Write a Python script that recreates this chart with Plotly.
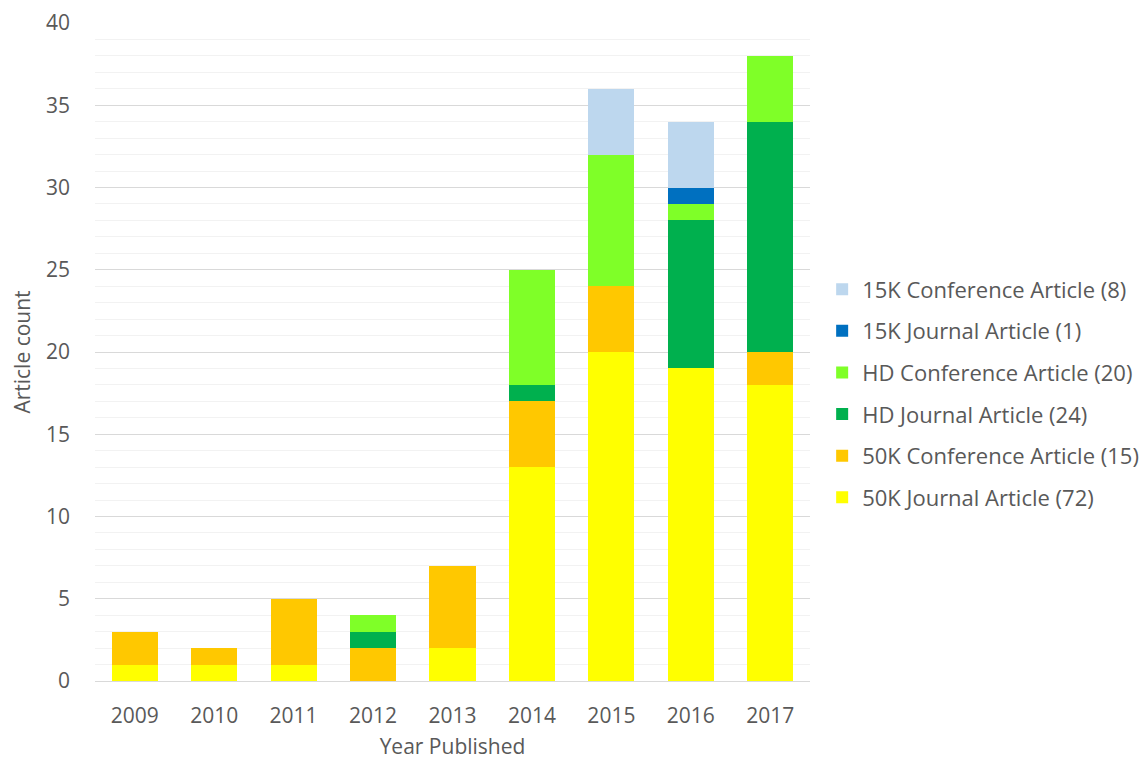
import plotly.graph_objects as go

years = ["2009", "2010", "2011", "2012", "2013", "2014", "2015", "2016", "2017"]

j50k = [1, 1, 1, 0, 2, 13, 20, 19, 18]
c50k = [2, 1, 4, 2, 5, 4, 4, 0, 2]
jhd = [0, 0, 0, 1, 0, 1, 0, 9, 14]
chd = [0, 0, 0, 1, 0, 7, 8, 1, 4]
j15k = [0, 0, 0, 0, 0, 0, 0, 1, 0]
c15k = [0, 0, 0, 0, 0, 0, 4, 4, 0]

series = [
    ("50K Journal Article (72)", j50k, "#FFFF00"),
    ("50K Conference Article (15)", c50k, "#FFC800"),
    ("HD Journal Article (24)", jhd, "#00B04E"),
    ("HD Conference Article (20)", chd, "#7FFF28"),
    ("15K Journal Article (1)", j15k, "#0070C0"),
    ("15K Conference Article (8)", c15k, "#BDD7EE"),
]

font_family = "Open Sans, Noto Sans, sans-serif"
text_color = "#595959"

fig = go.Figure()
for i, (name, vals, color) in enumerate(series):
    fig.add_trace(go.Bar(
        x=years, y=vals, name=name, legendgroup=name,
        legendrank=1000 - i,
        marker=dict(color=color, line=dict(width=0)),
    ))

fig.update_layout(
    barmode="stack",
    bargap=0.42,
    width=1139, height=752,
    margin=dict(l=87, r=337, t=15, b=79, autoexpand=False),
    paper_bgcolor="white", plot_bgcolor="white",
    font=dict(family=font_family, size=21, color=text_color),
    legend=dict(
        x=1.017, y=0.437, xanchor="left", yanchor="middle",
        traceorder="grouped", tracegroupgap=10,
        font=dict(size=22, color=text_color),
    ),
    xaxis=dict(
        title=dict(text="Year Published", font=dict(size=21, color=text_color), standoff=21),
        showline=True, linecolor="#D9D9D9", linewidth=1,
        ticks="", showgrid=False, automargin=False,
        ticklabelstandoff=16,
    ),
    yaxis=dict(
        title=dict(text="Article count", font=dict(size=21, color=text_color), standoff=9),
        range=[0, 40], dtick=5,
        showgrid=True, gridcolor="#D9D9D9", gridwidth=1,
        minor=dict(dtick=1, showgrid=True, gridcolor="#F2F2F2", gridwidth=1),
        zeroline=False, showline=False, ticks="", automargin=False,
        ticklabelstandoff=24, ticklabeloverflow="allow",
    ),
)

fig.write_html("out.html")
